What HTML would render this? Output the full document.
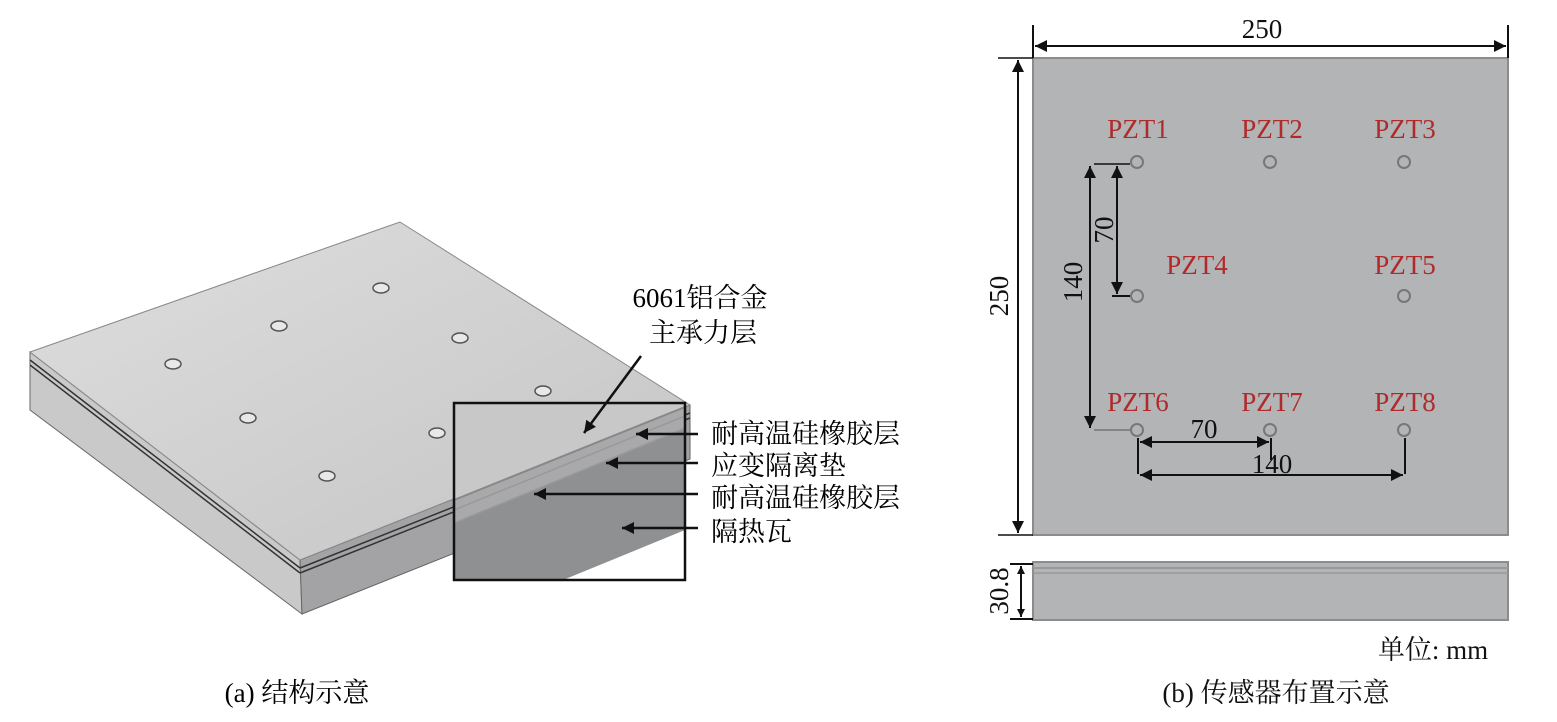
<!DOCTYPE html>
<html><head><meta charset="utf-8"><style>
html,body{margin:0;padding:0;background:#fff}
svg{display:block}
text{font-family:"Liberation Serif","Noto Serif CJK SC",serif}
</style></head><body>
<svg width="1557" height="722" viewBox="0 0 1557 722" xmlns="http://www.w3.org/2000/svg">
<defs>
<marker id="a" viewBox="0 0 10 10" refX="10" refY="5" markerWidth="10" markerHeight="8" orient="auto-start-reverse" markerUnits="userSpaceOnUse"><path d="M0,0L10,5L0,10z" fill="#111"/></marker>
<marker id="b" viewBox="0 0 10 10" refX="10" refY="5" markerWidth="24" markerHeight="12" orient="auto-start-reverse" markerUnits="userSpaceOnUse"><path d="M0,0L10,5L0,10z" fill="#111"/></marker>
<linearGradient id="tg" x1="0" y1="0" x2="1" y2="1"><stop offset="0" stop-color="#dedede"/><stop offset="1" stop-color="#c4c4c4"/></linearGradient>
</defs>
<polygon points="30,352 300,560 302,614 30,410" fill="#c9c9c9" stroke="#666" stroke-width="1"/>
<polygon points="300,560 690,405 690,459 302,614" fill="#a3a3a5" stroke="#666" stroke-width="1"/>
<polygon points="30,352 400,222 690,405 300,560" fill="url(#tg)" stroke="#888" stroke-width="1"/>
<g stroke="#333" stroke-width="1.5" fill="none">
<line x1="30" y1="360" x2="300" y2="568"/><line x1="30" y1="365" x2="300" y2="573"/>
<line x1="300" y1="568" x2="690" y2="413"/><line x1="300" y1="573" x2="690" y2="418"/>
</g>
<g fill="#e8e8e8" stroke="#555" stroke-width="1.5">
<ellipse cx="381" cy="288" rx="8" ry="5"/><ellipse cx="279" cy="326" rx="8" ry="5"/><ellipse cx="460" cy="338" rx="8" ry="5"/>
<ellipse cx="173" cy="364" rx="8" ry="5"/><ellipse cx="543" cy="391" rx="8" ry="5"/><ellipse cx="248" cy="418" rx="8" ry="5"/>
<ellipse cx="437" cy="433" rx="8" ry="5"/><ellipse cx="327" cy="476" rx="8" ry="5"/>
</g>
<!-- inset -->
<rect x="454" y="403" width="231" height="177" fill="#fff"/>
<polygon points="454,403 685,403 685,407 454,500" fill="#c8c8c9"/>
<polygon points="454,500 685,407 685,428 454,523" fill="#a9a9ab"/>
<polygon points="454,523 685,428 685,530 563,580 454,580" fill="#8f9092"/>
<line x1="454" y1="500" x2="685" y2="407" stroke="#888" stroke-width="2"/>
<line x1="454" y1="510" x2="685" y2="416" stroke="#999" stroke-width="1.5"/>
<line x1="454" y1="523" x2="685" y2="428" stroke="#9a9a9c" stroke-width="1.5"/>
<rect x="454" y="403" width="231" height="177" fill="none" stroke="#111" stroke-width="2.5"/>
<text x="700" y="307" font-size="27" text-anchor="middle">6061铝合金</text>
<text x="703" y="342" font-size="27" text-anchor="middle">主承力层</text>
<line x1="641" y1="356" x2="584" y2="433" stroke="#111" stroke-width="2.5" marker-end="url(#b)"/>
<g stroke="#111" stroke-width="2.5">
<line x1="698" y1="434" x2="636" y2="434" marker-end="url(#b)"/>
<line x1="698" y1="463" x2="606" y2="463" marker-end="url(#b)"/>
<line x1="698" y1="494" x2="534" y2="494" marker-end="url(#b)"/>
<line x1="698" y1="528" x2="622" y2="528" marker-end="url(#b)"/>
</g>
<g font-size="27">
<text x="711" y="443">耐高温硅橡胶层</text>
<text x="711" y="475">应变隔离垫</text>
<text x="711" y="507">耐高温硅橡胶层</text>
<text x="711" y="541">隔热瓦</text>
</g>
<text x="297" y="702" font-size="27" text-anchor="middle">(a) 结构示意</text>
<rect x="1033" y="58" width="475" height="477" fill="#b3b4b6" stroke="#8c8c8e" stroke-width="2"/>
<rect x="1033" y="562" width="475" height="58" fill="#b3b4b6" stroke="#8c8c8e" stroke-width="2"/>
<line x1="1033" y1="568" x2="1508" y2="568" stroke="#999" stroke-width="2"/>
<line x1="1033" y1="573" x2="1508" y2="573" stroke="#999" stroke-width="1.5"/>
<g stroke="#111" stroke-width="2">
<line x1="1033" y1="25" x2="1033" y2="58"/><line x1="1508" y1="25" x2="1508" y2="58"/>
<line x1="1035" y1="46" x2="1506" y2="46" marker-start="url(#b)" marker-end="url(#b)"/>
<line x1="998" y1="58" x2="1033" y2="58" stroke-width="1.5"/>
<line x1="998" y1="535" x2="1033" y2="535" stroke-width="1.5"/>
<line x1="1018" y1="60" x2="1018" y2="533" marker-start="url(#b)" marker-end="url(#b)"/>
<line x1="1094" y1="164" x2="1130" y2="164" stroke-width="1.5"/>
<line x1="1112" y1="296" x2="1130" y2="296"/>
<line x1="1094" y1="430" x2="1130" y2="430" stroke-width="1" stroke="#555"/>
<line x1="1090" y1="166" x2="1090" y2="428" marker-start="url(#b)" marker-end="url(#b)"/>
<line x1="1117" y1="166" x2="1117" y2="294" marker-start="url(#b)" marker-end="url(#b)"/>
<line x1="1138" y1="438" x2="1138" y2="474"/>
<line x1="1271" y1="438" x2="1271" y2="460"/>
<line x1="1405" y1="438" x2="1405" y2="474"/>
<line x1="1140" y1="442" x2="1269" y2="442" marker-start="url(#b)" marker-end="url(#b)"/>
<line x1="1140" y1="475" x2="1403" y2="475" marker-start="url(#b)" marker-end="url(#b)"/>
<line x1="1010" y1="564" x2="1033" y2="564"/><line x1="1010" y1="619" x2="1033" y2="619"/>
<line x1="1021" y1="566" x2="1021" y2="617" marker-start="url(#a)" marker-end="url(#a)"/>
</g>
<g fill="none" stroke="#777" stroke-width="2">
<circle cx="1137" cy="162" r="6"/><circle cx="1270" cy="162" r="6"/><circle cx="1404" cy="162" r="6"/>
<circle cx="1137" cy="296" r="6"/><circle cx="1404" cy="296" r="6"/>
<circle cx="1137" cy="430" r="6"/><circle cx="1270" cy="430" r="6"/><circle cx="1404" cy="430" r="6"/>
</g>
<g fill="#b02a2a" font-size="27" text-anchor="middle">
<text x="1138" y="138">PZT1</text><text x="1272" y="138">PZT2</text><text x="1405" y="138">PZT3</text>
<text x="1197" y="274">PZT4</text><text x="1405" y="274">PZT5</text>
<text x="1138" y="411">PZT6</text><text x="1272" y="411">PZT7</text><text x="1405" y="411">PZT8</text>
</g>
<g font-size="27" fill="#111" text-anchor="middle">
<text x="1262" y="38">250</text>
<text x="1204" y="438">70</text>
<text x="1272" y="473">140</text>
<text transform="translate(1008,296) rotate(-90)">250</text>
<text transform="translate(1082,282) rotate(-90)">140</text>
<text transform="translate(1113,230) rotate(-90)">70</text>
<text transform="translate(1008,591) rotate(-90)">30.8</text>
<text x="1433" y="659">单位: mm</text>
<text x="1276" y="702">(b) 传感器布置示意</text>
</g>
</svg>
</body></html>
